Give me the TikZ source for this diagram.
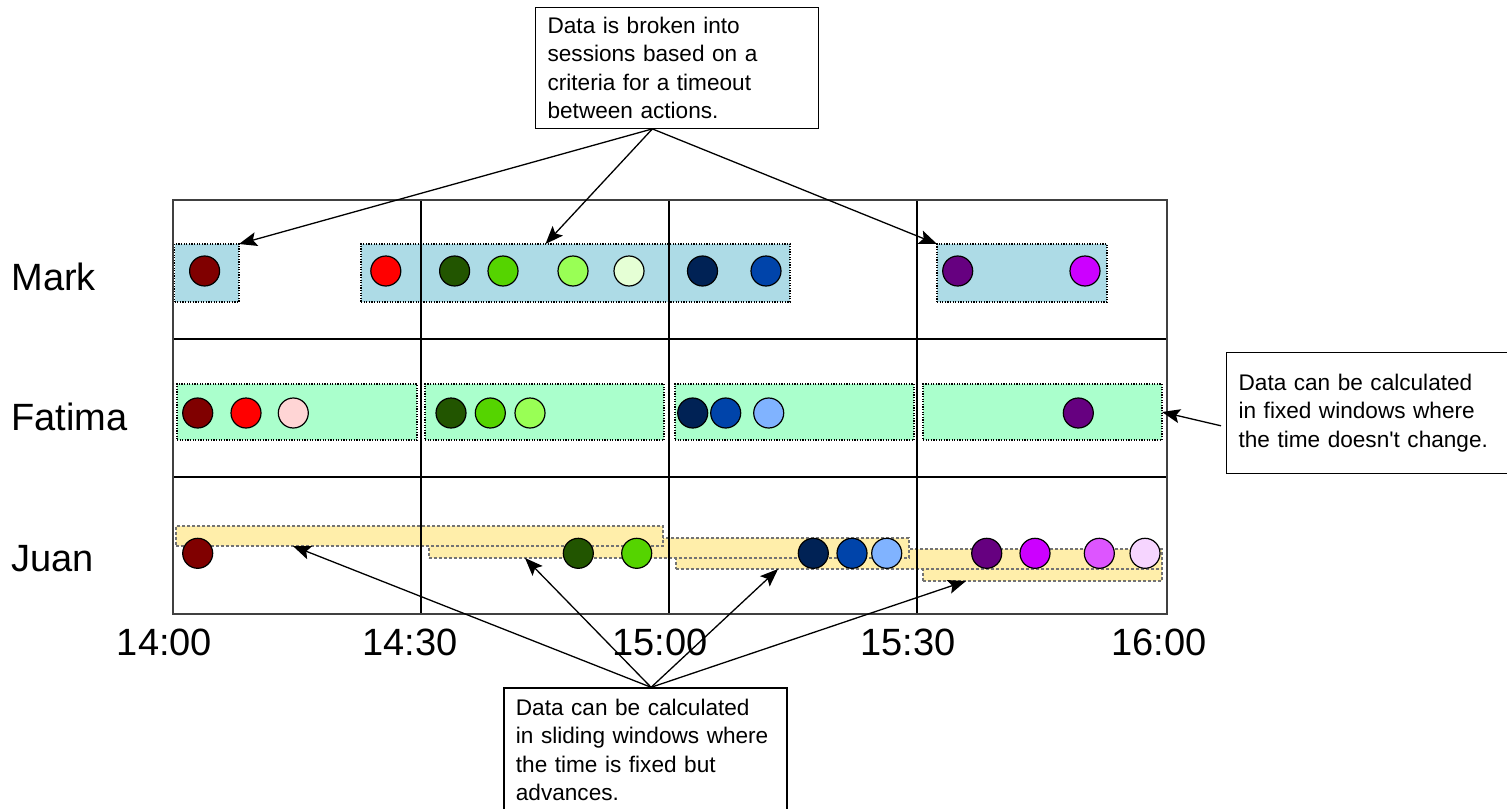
\documentclass[tikz,border=0pt]{standalone}
\usepackage{fontspec}
\setmainfont{Liberation Sans}
\usetikzlibrary{arrows.meta,fit,calc}

\definecolor{markfill}{HTML}{ADDBE6}
\definecolor{fatfill}{HTML}{AAFFCC}
\definecolor{juanfill}{HTML}{FFEEAA}
\definecolor{redA}{HTML}{800000}
\definecolor{redB}{HTML}{FF0000}
\definecolor{redC}{HTML}{FFD5D5}
\definecolor{greenA}{HTML}{225500}
\definecolor{greenB}{HTML}{55D400}
\definecolor{greenC}{HTML}{99FF55}
\definecolor{greenD}{HTML}{E5FFD5}
\definecolor{blueA}{HTML}{002255}
\definecolor{blueB}{HTML}{0044AA}
\definecolor{blueC}{HTML}{80B3FF}
\definecolor{violetA}{HTML}{660080}
\definecolor{violetB}{HTML}{CC00FF}
\definecolor{violetC}{HTML}{DD55FF}
\definecolor{violetD}{HTML}{F6D5FF}

\tikzset{
  win/.style={inner sep=0pt, outer sep=0pt, line width=0.6pt},
  sesswin/.style={win, fill=markfill, draw=black, dash pattern=on 0.6pt off 0.7pt},
  fixwin/.style={win, fill=fatfill, draw=black, dash pattern=on 0.6pt off 0.7pt},
  slidewin/.style={win, fill=juanfill, draw=black!55, dash pattern=on 1.6pt off 0.9pt},
  dot/.style={circle, draw, line width=0.6pt, minimum size=15pt, inner sep=0pt},
  who/.style={anchor=base west, inner sep=0pt, font=\fontsize{19}{23}\selectfont},
  tick/.style={anchor=base, inner sep=0pt, font=\fontsize{19}{23}\selectfont},
  note/.style={draw, line width=0.6pt, anchor=north west, align=left, text width=129.5pt,
    inner xsep=6pt, inner ysep=0pt, minimum height=60.5pt, font=\fontsize{11.3}{14.2}\selectfont},
  pointer/.style={->, line width=0.65pt},
}

\begin{document}
\begin{tikzpicture}[x=0.5pt, y=-0.5pt, >={Stealth[length=9pt,width=7pt,inset=1.8pt]}]
\useasboundingbox (0,0) rectangle (1507,808);

% session windows (Mark)
\node[sesswin, fit={(174.5,244) (239,302)}] (mw1) {};
\node[sesswin, fit={(361,244) (790,302)}] (mw2) {};
\node[sesswin, fit={(937,244) (1107,302)}] (mw3) {};
% fixed windows (Fatima)
\node[fixwin, fit={(177,384) (417,440)}] (fw1) {};
\node[fixwin, fit={(425,384) (664,440)}] (fw2) {};
\node[fixwin, fit={(675,384) (914,440)}] (fw3) {};
\node[fixwin, fit={(923,384) (1162,440)}] (fw4) {};
% sliding windows (Juan)
\node[slidewin, fit={(923,561) (1162,581)}] (jw4) {};
\node[slidewin, fit={(676,549) (1162,569)}] (jw3) {};
\node[slidewin, fit={(429,538) (909,558)}] (jw2) {};
\node[slidewin, fit={(176,526) (663,546)}] (jw1) {};

% grid
\draw[line width=0.6pt] (421,200) -- (421,614);
\draw[line width=0.6pt] (669,200) -- (669,614);
\draw[line width=0.6pt] (917,200) -- (917,614);
\draw[line width=0.6pt] (173,339) -- (1167,339);
\draw[line width=0.6pt] (173,477) -- (1167,477);
\draw[line width=1pt, black!75] (173,200) rectangle (1167,614);

% Mark
\node[dot, fill=redA] (m1) at (204.6,271) {};
\node[dot, fill=redB] (m2) at (385.8,271) {};
\node[dot, fill=greenA] (m3) at (454.6,271) {};
\node[dot, fill=greenB] (m4) at (503,271) {};
\node[dot, fill=greenC] (m5) at (573,271) {};
\node[dot, fill=greenD] (m6) at (629,271) {};
\node[dot, fill=blueA] (m7) at (702.5,271) {};
\node[dot, fill=blueB] (m8) at (766,271) {};
\node[dot, fill=violetA] (m9) at (957.7,271) {};
\node[dot, fill=violetB] (m10) at (1085,271) {};
% Fatima
\node[dot, fill=redA] (f1) at (197.7,413) {};
\node[dot, fill=redB] (f2) at (246,413) {};
\node[dot, fill=redC] (f3) at (293.3,413) {};
\node[dot, fill=greenA] (f4) at (451,413) {};
\node[dot, fill=greenB] (f5) at (490.3,413) {};
\node[dot, fill=greenC] (f6) at (530,413) {};
\node[dot, fill=blueA] (f7) at (692.7,413) {};
\node[dot, fill=blueB] (f8) at (725.7,413) {};
\node[dot, fill=blueC] (f9) at (768.7,413) {};
\node[dot, fill=violetA] (f10) at (1078.3,413) {};
% Juan
\node[dot, fill=redA] (j1) at (197.7,553.3) {};
\node[dot, fill=greenA] (j2) at (578.3,553.3) {};
\node[dot, fill=greenB] (j3) at (636.7,553.3) {};
\node[dot, fill=blueA] (j4) at (813.3,553.3) {};
\node[dot, fill=blueB] (j5) at (852,553.3) {};
\node[dot, fill=blueC] (j6) at (886.7,553.3) {};
\node[dot, fill=violetA] (j7) at (986.7,553.3) {};
\node[dot, fill=violetB] (j8) at (1035,553.3) {};
\node[dot, fill=violetC] (j9) at (1099.3,553.3) {};
\node[dot, fill=violetD] (j10) at (1145,553.3) {};

\node[who] (mark) at (11,290.7) {Mark};
\node[who] (fatima) at (11,430.7) {Fatima};
\node[who] (juan) at (11,571.7) {Juan};

\node[tick] (t1) at (164.5,655) {14:00};
\node[tick] (t2) at (410,655) {14:30};
\node[tick] (t3) at (660,655) {15:00};
\node[tick] (t4) at (908,655) {15:30};
\node[tick] (t5) at (1159,655) {16:00};

% callouts
\node[note] (sess) at (535,6.7) {Data is broken into\\sessions based on a\\criteria for a timeout\\between actions.};
\node[note] (fixw) at (1226,351.7) {Data can be calculated\\in fixed windows where\\the time doesn\textquotesingle t change.};
\node[note, minimum height=62pt] (slid) at (503.3,687.3) {Data can be calculated\\in sliding windows where\\the time is fixed but\\advances.};

\draw[pointer] ($(sess.south west)!0.413!(sess.south east)$) -- (mw1.north east);
\draw[pointer] ($(sess.south west)!0.413!(sess.south east)$) -- ($(mw2.north west)!0.43!(mw2.north east)$);
\draw[pointer] ($(sess.south west)!0.413!(sess.south east)$) -- (mw3.north west);
\draw[pointer] ([xshift=-2.5pt,yshift=-6.5pt]fixw.west) -- (fw4.east);
\draw[pointer] ($(slid.north west)!0.52!(slid.north east)$) -- ($(jw1.south west)!0.24!(jw1.south east)$);
\draw[pointer] ($(slid.north west)!0.52!(slid.north east)$) -- ($(jw2.south west)!0.2!(jw2.south east)$);
\draw[pointer] ($(slid.north west)!0.52!(slid.north east)$) -- ($(jw3.south west)!0.21!(jw3.south east)$);
\draw[pointer] ($(slid.north west)!0.52!(slid.north east)$) -- ($(jw4.south west)!0.18!(jw4.south east)$);
\end{tikzpicture}
\end{document}
